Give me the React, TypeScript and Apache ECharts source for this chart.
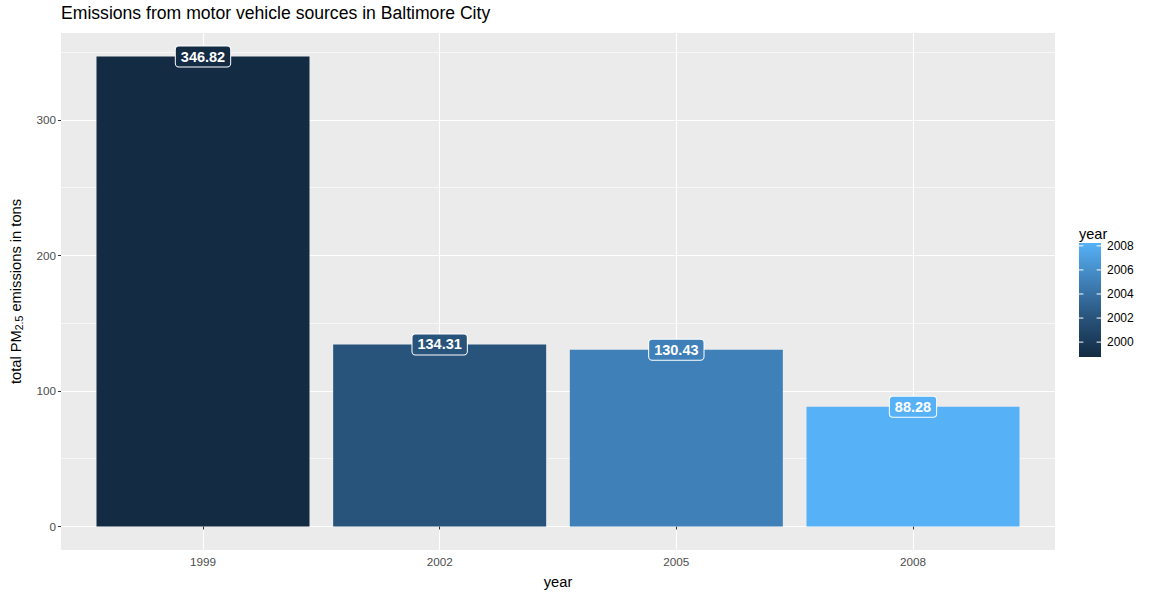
import React, { useEffect, useRef } from "react";
import * as echarts from "echarts";

const years = ["1999", "2002", "2005", "2008"];
const emissions = [346.82, 134.31, 130.43, 88.28];
const barColors = ["#132B43", "#28537A", "#3F80B8", "#56B1F7"];
const yMajor = [0, 100, 200, 300];
const yMinor = [50, 150, 250, 350];
const legendTicks = [2000, 2002, 2004, 2006, 2008];
const legendMin = 1999;
const legendMax = 2008;

const FONT = "Liberation Sans, Arial, sans-serif";

export default function App() {
  const ref = useRef<HTMLDivElement>(null);
  useEffect(() => {
    if (!ref.current) return;
    const chart = echarts.init(ref.current, null, { renderer: "svg" });
    const xPos = years.map((_, i) => i + 1);
    const dataMax = Math.max(...emissions);
    const pad = dataMax * 0.05;

    // legend colorbar geometry
    const cbX = 1079, cbW = 22, cbTop = 243, cbH = 114;
    const tickY = (v: number) => {
      const f = (v - legendMin) / (legendMax - legendMin);
      return cbTop + cbH * (1 - (0.025 + 0.95 * f));
    };
    const legendGraphics: any[] = [
      {
        type: "text",
        left: cbX,
        top: 226,
        style: { text: "year", font: `14.5px ${FONT}`, fill: "#000" },
      },
      {
        type: "rect",
        shape: { x: cbX, y: cbTop, width: cbW, height: cbH },
        style: {
          fill: new echarts.graphic.LinearGradient(0, 1, 0, 0, [
            { offset: 0.0, color: barColors[0] },
            { offset: 0.025 + 0.95 * (1 / 3), color: barColors[1] },
            { offset: 0.025 + 0.95 * (2 / 3), color: barColors[2] },
            { offset: 1.0, color: barColors[3] },
          ]),
        },
      },
    ];
    legendTicks.forEach((t) => {
      const y = tickY(t);
      legendGraphics.push(
        { type: "line", shape: { x1: cbX, y1: y, x2: cbX + 4.4, y2: y }, style: { stroke: "#fff", lineWidth: 1 } },
        { type: "line", shape: { x1: cbX + cbW - 4.4, y1: y, x2: cbX + cbW, y2: y }, style: { stroke: "#fff", lineWidth: 1 } },
        {
          type: "text",
          x: cbX + cbW + 6,
          y: y,
          style: { text: String(t), font: `12px ${FONT}`, fill: "#000", verticalAlign: "middle", align: "left" },
        }
      );
    });

    const gridLineData: any[] = [
      ...yMajor.map((v) => ({ yAxis: v, lineStyle: { width: 1.1 } })),
      ...yMinor.map((v) => ({ yAxis: v, lineStyle: { width: 0.55 } })),
      ...xPos.map((v) => ({ xAxis: v, lineStyle: { width: 1.1 } })),
    ];

    chart.setOption({
      animation: false,
      backgroundColor: "#fff",
      textStyle: { fontFamily: FONT },
      title: {
        text: "Emissions from motor vehicle sources in Baltimore City",
        left: 61,
        top: 4,
        padding: 0,
        textStyle: { fontSize: 17.6, fontWeight: "normal", color: "#000", fontFamily: FONT },
      },
      grid: {
        left: 61,
        right: 96,
        top: 33,
        bottom: 47,
        show: true,
        backgroundColor: "#EBEBEB",
        borderWidth: 0,
        containLabel: false,
        outerBoundsMode: "none",
      },
      xAxis: {
        type: "value",
        min: 0.4,
        max: 4.6,
        name: "year",
        nameLocation: "middle",
        nameGap: 24,
        nameTextStyle: { fontSize: 14.7, color: "#000", fontFamily: FONT },
        axisLine: { show: false },
        splitLine: { show: false },
        axisTick: { show: true, length: 3, lineStyle: { color: "#333" }, customValues: xPos },
        axisLabel: {
          customValues: xPos,
          formatter: (v: number) => years[Math.round(v) - 1] ?? "",
          color: "#4D4D4D",
          fontSize: 11.7,
          margin: 5,
          fontFamily: FONT,
        },
      },
      yAxis: {
        type: "value",
        min: -pad,
        max: dataMax + pad,
        name: "total PM{sub|2.5} emissions in tons",
        nameLocation: "middle",
        nameRotate: 90,
        nameGap: 37,
        nameTextStyle: {
          fontSize: 14.7,
          color: "#000",
          fontFamily: FONT,
          rich: { sub: { fontSize: 10.5, verticalAlign: "bottom", padding: [6, 0, 0, 0], color: "#000", fontFamily: FONT } },
        },
        axisLine: { show: false },
        splitLine: { show: false },
        axisTick: { show: true, length: 3, lineStyle: { color: "#333" }, customValues: yMajor },
        axisLabel: {
          customValues: yMajor,
          color: "#4D4D4D",
          fontSize: 11.7,
          margin: 5,
          fontFamily: FONT,
        },
      },
      series: [
        {
          type: "line",
          data: [],
          silent: true,
          z: 0,
          markLine: {
            silent: true,
            z: 0,
            symbol: "none",
            label: { show: false },
            lineStyle: { color: "#fff", type: "solid" },
            data: gridLineData,
          },
        },
        {
          type: "bar",
          z: 3,
          barWidth: 213,
          data: emissions.map((v, i) => ({
            value: [xPos[i], v],
            itemStyle: { color: barColors[i] },
            label: { backgroundColor: barColors[i] },
          })),
          label: {
            show: true,
            position: ["50%", 0],
            align: "center",
            verticalAlign: "middle",
            formatter: (p: any) => p.value[1].toFixed(2),
            color: "#fff",
            fontWeight: "bold",
            fontSize: 14.5,
            fontFamily: FONT,
            borderColor: "#fff",
            borderWidth: 1,
            borderRadius: 3,
            padding: [3, 5, 2, 5],
          },
        },
      ],
      graphic: legendGraphics,
    });
    return () => chart.dispose();
  }, []);
  return <div ref={ref} style={{ width: 1151, height: 597, position: "absolute", left: 0, top: 0 }} />;
}
